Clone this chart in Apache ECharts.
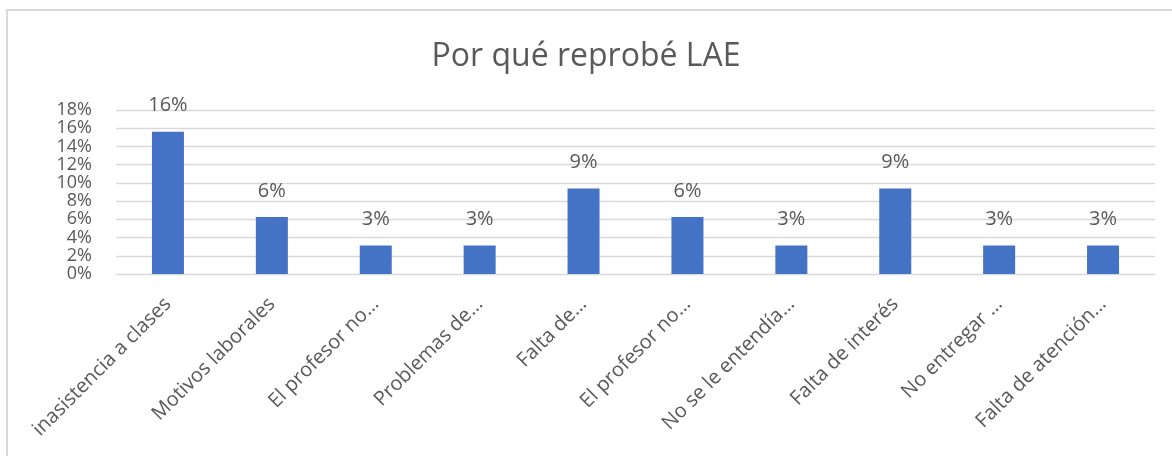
<!DOCTYPE html>
<html>
<head>
<meta charset="utf-8">
<script src="https://cdn.jsdelivr.net/npm/echarts@6/dist/echarts.min.js"></script>
<style>
  html, body { margin: 0; padding: 0; background: #fff; }
  #chart { width: 1172px; height: 456px; }
</style>
</head>
<body>
<div id="chart"></div>
<script>
// categorias (tal como aparecen, recortadas por Excel)
var categories = [
  'inasistencia a clases',
  'Motivos laborales',
  'El profesor no…',
  'Problemas de…',
  'Falta de…',
  'El profesor no…',
  'No se le entendía…',
  'Falta de interés',
  'No entregar …',
  'Falta de atención…'
];
// porcentajes (n/32)
var values = [15.625, 6.25, 3.125, 3.125, 9.375, 6.25, 3.125, 9.375, 3.125, 3.125];
var yTicks = { min: 0, max: 18, interval: 2 };

var font = '"Open Sans", "Liberation Sans", sans-serif';
var textColor = '#595959';

var myChart = echarts.init(document.getElementById('chart'));
myChart.setOption({
    animation: false,
    title: {
        text: 'Por qué reprobé LAE',
        left: 'center',
        top: 36,
        textStyle: { fontFamily: font, fontSize: 32, fontWeight: 'normal', color: textColor }
    },
    graphic: [{
        type: 'rect',
        shape: { x: 7, y: 10, width: 1300, height: 600 },
        style: { fill: 'none', stroke: '#D9D9D9', lineWidth: 2 },
        silent: true
    }],
    grid: { left: 116, right: 17, top: 110, bottom: 182, containLabel: false },
    xAxis: {
        type: 'category',
        data: categories,
        axisLine: { lineStyle: { color: '#D9D9D9' } },
        axisTick: { show: false },
        axisLabel: {
            interval: 0,
            rotate: 45,
            margin: 27,
            fontFamily: font,
            fontSize: 20,
            color: textColor
        }
    },
    yAxis: {
        type: 'value',
        min: yTicks.min,
        max: yTicks.max,
        interval: yTicks.interval,
        axisLine: { show: false },
        axisTick: { show: false },
        splitLine: { lineStyle: { color: '#D9D9D9', width: 1.3 } },
        axisLabel: {
            interval: 0,
            margin: 24,
            fontFamily: font,
            fontSize: 18,
            lineHeight: 16,
            showMinLabel: true,
            showMaxLabel: true,
            hideOverlap: false,
            color: textColor,
            formatter: function (v) { return v + '%'; }
        }
    },
    series: [{
        type: 'bar',
        data: values,
        barWidth: 32,
        itemStyle: { color: '#4472C4' },
        label: {
            show: true,
            position: 'top',
            distance: 16,
            fontFamily: font,
            fontSize: 20,
            color: textColor,
            formatter: function (p) { return Math.round(p.value) + '%'; }
        }
    }]
});
</script>
</body>
</html>
